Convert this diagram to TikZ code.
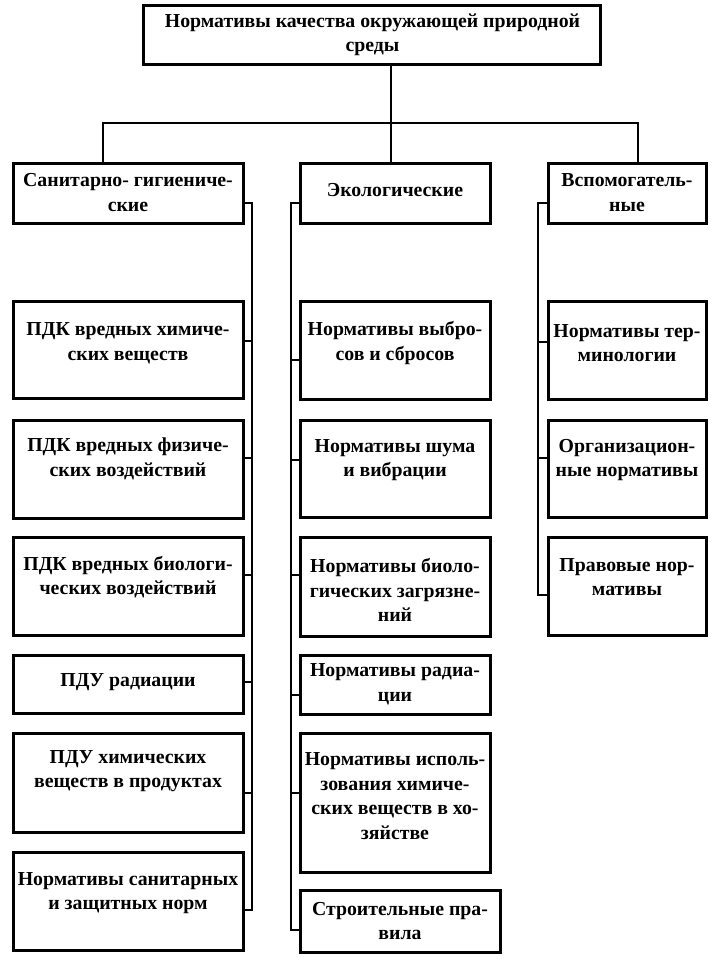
\documentclass[tikz,border=0pt]{standalone}
\usepackage{fontspec}
\setmainfont{Liberation Serif}
\begin{document}
\begin{tikzpicture}[x=1pt,y=-1pt,
  box/.style={draw=black, line width=3pt, line join=miter, inner sep=0pt, outer sep=0pt},
  txt/.style={align=center, inner sep=0pt, font=\fontsize{19.8}{24.5}\selectfont\bfseries},
  conn/.style={draw=black, line width=2.8pt, line join=miter}]
\useasboundingbox (0,0) rectangle (717,962);
% boxes
\node[box, minimum width=457pt, minimum height=59pt] (T) at (371.5,34.5) {};
\node[box, minimum width=230pt, minimum height=60pt] (A) at (128,193) {};
\node[box, minimum width=190pt, minimum height=60pt] (B) at (395,193) {};
\node[box, minimum width=158pt, minimum height=60pt] (C) at (627,193) {};
\node[box, minimum width=230pt, minimum height=97pt] (A1) at (128,349.5) {};
\node[box, minimum width=230pt, minimum height=98pt] (A2) at (128,469) {};
\node[box, minimum width=230pt, minimum height=98pt] (A3) at (128,586) {};
\node[box, minimum width=230pt, minimum height=58pt] (A4) at (128,684) {};
\node[box, minimum width=230pt, minimum height=99pt] (A5) at (128,782.5) {};
\node[box, minimum width=230pt, minimum height=98pt] (A6) at (128,901) {};
\node[box, minimum width=190pt, minimum height=98pt] (B1) at (395,350) {};
\node[box, minimum width=190pt, minimum height=97pt] (B2) at (395,468.5) {};
\node[box, minimum width=190pt, minimum height=99pt] (B3) at (395,586.5) {};
\node[box, minimum width=190pt, minimum height=59pt] (B4) at (395,684.5) {};
\node[box, minimum width=190pt, minimum height=139pt] (B5) at (395,802.5) {};
\node[box, minimum width=200pt, minimum height=62pt] (B6) at (400,921) {};
\node[box, minimum width=158pt, minimum height=98pt] (C1) at (627,350) {};
\node[box, minimum width=158pt, minimum height=97pt] (C2) at (627,468.5) {};
\node[box, minimum width=158pt, minimum height=98pt] (C3) at (627,586) {};
% texts
\node[txt] (Tt) at (372.5,35) {Нормативы качества окружающей природной\\среды};
\node[txt] (At) at (128,192.5) {Санитарно- гигиениче-\\ские};
\node[txt] (Bt) at (395,190) {Экологические};
\node[txt] (Ct) at (627,192.5) {Вспомогатель-\\ные};
\node[txt] (A1t) at (128,343) {ПДК вредных химиче-\\ских веществ};
\node[txt] (A2t) at (128,459) {ПДК вредных физиче-\\ских воздействий};
\node[txt] (A3t) at (128,577) {ПДК вредных биологи-\\ческих воздействий};
\node[txt] (A4t) at (128,682) {ПДУ радиации};
\node[txt] (A5t) at (128,771) {ПДУ химических\\веществ в продуктах};
\node[txt] (A6t) at (128,893) {Нормативы санитарных\\и защитных норм};
\node[txt] (B1t) at (395,343) {Нормативы выбро-\\сов и сбросов};
\node[txt] (B2t) at (395,460) {Нормативы шума\\и вибрации};
\node[txt] (B3t) at (395,590) {Нормативы биоло-\\гических загрязне-\\ний};
\node[txt] (B4t) at (395,684) {Нормативы радиа-\\ции};
\node[txt] (B5t) at (395,796) {Нормативы исполь-\\зования химиче-\\ских веществ в хо-\\зяйстве};
\node[txt] (B6t) at (400,921) {Строительные пра-\\вила};
\node[txt] (C1t) at (627,343) {Нормативы тер-\\минологии};
\node[txt] (C2t) at (627,460) {Организацион-\\ные нормативы};
\node[txt] (C3t) at (627,577) {Правовые нор-\\мативы};
% bus coordinates
\coordinate (j) at (391,123);
\coordinate (hl) at (103,123);
\coordinate (hr) at (638,123);
\coordinate (lb) at (252,203);
\coordinate (lbe) at (252,910);
\coordinate (mb) at (291,203);
\coordinate (mbe) at (291,930);
\coordinate (rb) at (538,203);
\coordinate (rbe) at (538,595);
\coordinate (la1) at (252,341);
\coordinate (la2) at (252,458);
\coordinate (la3) at (252,575);
\coordinate (la4) at (252,682);
\coordinate (la5) at (252,793);
\coordinate (mb1) at (291,360);
\coordinate (mb2) at (291,460);
\coordinate (mb3) at (291,575);
\coordinate (mb4) at (291,695);
\coordinate (mb5) at (291,793);
\coordinate (rb1) at (538,342);
\coordinate (rb2) at (538,458);
% connectors
\draw[conn] (T.south -| j) -- (B.north -| j);
\draw[conn] (A.north -| hl) -- (hl) -- (hr) -- (C.north -| hr);
\draw[conn] (A.east |- lb) -- (lb) -- (lbe) -- (A6.east |- lbe);
\draw[conn] (B.west |- mb) -- (mb) -- (mbe) -- (B6.west |- mbe);
\draw[conn] (C.west |- rb) -- (rb) -- (rbe) -- (C3.west |- rbe);
\draw[conn] (la1) -- (A1.east |- la1);
\draw[conn] (la2) -- (A2.east |- la2);
\draw[conn] (la3) -- (A3.east |- la3);
\draw[conn] (la4) -- (A4.east |- la4);
\draw[conn] (la5) -- (A5.east |- la5);
\draw[conn] (mb1) -- (B1.west |- mb1);
\draw[conn] (mb2) -- (B2.west |- mb2);
\draw[conn] (mb3) -- (B3.west |- mb3);
\draw[conn] (mb4) -- (B4.west |- mb4);
\draw[conn] (mb5) -- (B5.west |- mb5);
\draw[conn] (rb1) -- (C1.west |- rb1);
\draw[conn] (rb2) -- (C2.west |- rb2);
\end{tikzpicture}
\end{document}
